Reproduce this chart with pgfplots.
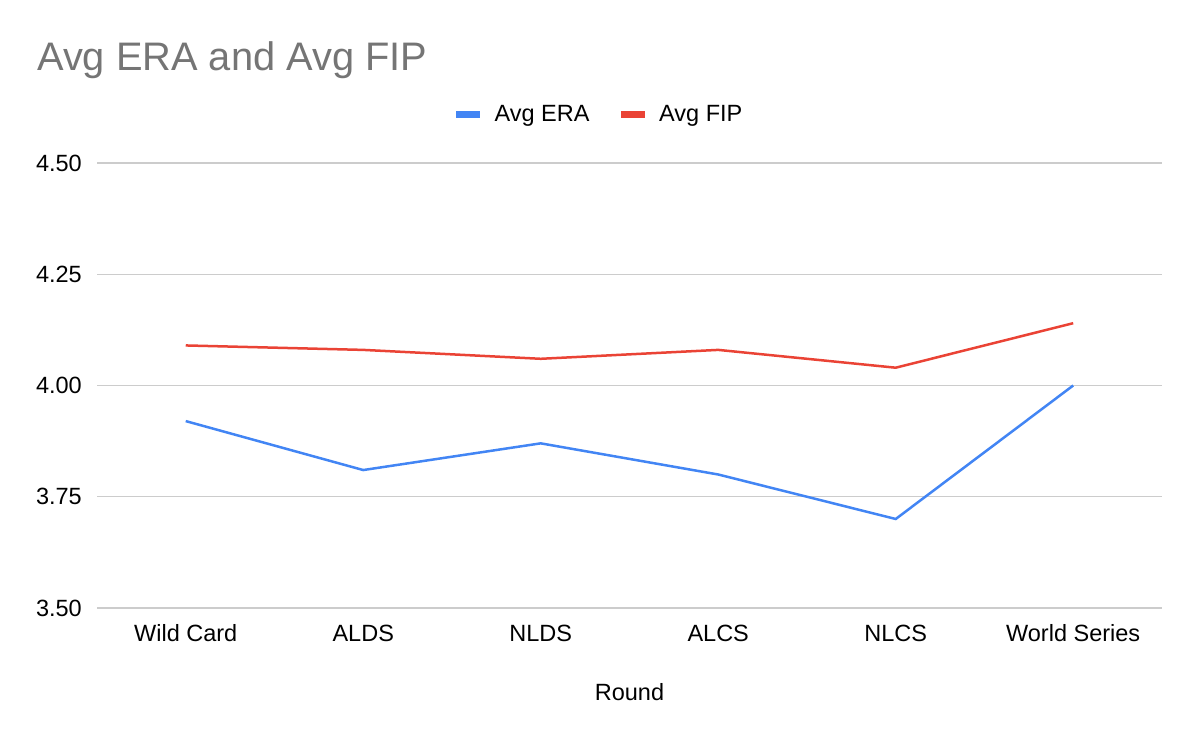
\documentclass[border=0pt]{standalone}
\usepackage{pgfplots}
\pgfplotsset{compat=1.18}
\usepackage{fontspec}
\setmainfont{Liberation Sans}
\definecolor{eraBlue}{HTML}{4285F4}
\definecolor{fipRed}{HTML}{EA4335}
\definecolor{gridGray}{HTML}{CCCCCC}
\definecolor{titleGray}{HTML}{757575}
\begin{document}
\begin{tikzpicture}
\useasboundingbox (0,0) rectangle (1200pt,742pt);
\node[anchor=base west, text=titleGray, font=\fontsize{39.8}{45}\selectfont, inner sep=0pt] at (37pt,671pt) {Avg ERA and Avg FIP};
\begin{axis}[
  at={(97pt,134pt)}, anchor=south west, scale only axis,
  width=1065pt, height=445pt,
  xmin=-0.5, xmax=5.5, ymin=3.5, ymax=4.5,
  xtick={0,1,2,3,4,5},
  xticklabels={Wild Card,ALDS,NLDS,ALCS,NLCS,World Series},
  ytick={3.5,3.75,4,4.25,4.5},
  /pgf/number format/fixed,
  /pgf/number format/fixed zerofill,
  /pgf/number format/precision=2,
  /pgf/number format/assume math mode=true,
  yticklabel style={anchor=east, inner sep=0pt, xshift=-15pt},
  xticklabel style={anchor=base, yshift=-33pt},
  tick label style={font=\fontsize{23.5}{28}\selectfont, text=black},
  axis line style={draw=none},
  major tick length=0pt,
  ymajorgrids, grid style={gridGray, line width=1.2pt},
  xlabel={Round},
  xlabel style={at={(axis description cs:0.5,0)}, anchor=base, yshift=-92pt, inner sep=0pt, font=\fontsize{23.5}{28}\selectfont},
  legend style={at={(axis description cs:0.471,1.110)}, anchor=center, draw=none, fill=none,
    font=\fontsize{23.5}{28}\selectfont, /tikz/every even column/.append style={column sep=26pt}},
  legend columns=2,
  legend image code/.code={\draw[#1, line width=7pt] (0pt,0pt) -- (24pt,0pt); \path (35pt,0pt);},
]
\addplot[eraBlue, line width=2.5pt] coordinates {(0,3.92) (1,3.81) (2,3.87) (3,3.80) (4,3.70) (5,4.00)};
\addlegendentry{Avg ERA}
\addplot[fipRed, line width=2.5pt] coordinates {(0,4.09) (1,4.08) (2,4.06) (3,4.08) (4,4.04) (5,4.14)};
\addlegendentry{Avg FIP}
\end{axis}
\end{tikzpicture}
\end{document}
